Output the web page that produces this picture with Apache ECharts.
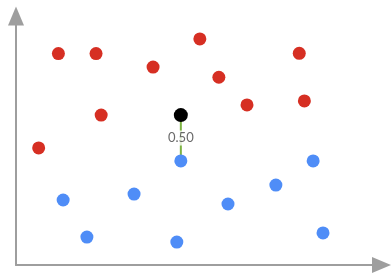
<!DOCTYPE html>
<html>
<head>
<meta charset="utf-8">
<script src="https://cdn.jsdelivr.net/npm/echarts@6/dist/echarts.min.js"></script>
<style>
    html, body { margin: 0; padding: 0; background: #fff; }
    #chart { width: 391px; height: 273px; }
</style>
</head>
<body>
<div id="chart"></div>
<script>
// points (x, y on a 0..100 scale)
const redPoints = [
    [11.6, 84.9], [21.9, 84.9], [50.3, 90.8], [37.5, 79.5], [55.5, 75.4],
    [77.5, 85.0], [23.3, 60.2], [63.2, 64.3], [78.9, 65.9], [6.2, 47.0]
]
const bluePoints = [
    [12.9, 26.1], [19.4, 11.2], [32.3, 28.5], [45.1, 41.8], [44.0, 9.2],
    [58.0, 24.5], [71.1, 32.1], [81.3, 41.8], [84.0, 12.9]
]
const blackPoint = [45.1, 60.2]
const nearestBlue = [45.1, 41.8]
const distanceLabel = '0.50'

let chart = echarts.init(document.getElementById('chart'))

let axisLine = {
    show: true,
    symbol: ['none', 'triangle'],
    symbolSize: [16, 19],
    lineStyle: { color: '#9e9e9e', width: 2 }
}

let option = {
    animation: false,
    grid: { left: 16, right: 9.5, top: 16, bottom: 8 },
    xAxis: {
        type: 'value', min: 0, max: 100,
        axisLine: axisLine,
        axisTick: { show: false },
        axisLabel: { show: false },
        splitLine: { show: false }
    },
    yAxis: {
        type: 'value', min: 0, max: 100,
        axisLine: axisLine,
        axisTick: { show: false },
        axisLabel: { show: false },
        splitLine: { show: false }
    },
    series: [{
            type: 'line',
            data: [blackPoint, nearestBlue],
            symbol: 'none',
            lineStyle: { color: '#7cb342', width: 2 },
            z: 1
        },
        {
            type: 'scatter',
            data: redPoints,
            symbolSize: 13,
            itemStyle: { color: '#d62f23', opacity: 1 },
            z: 2
        },
        {
            type: 'scatter',
            data: bluePoints,
            symbolSize: 13,
            itemStyle: { color: '#4f8df7', opacity: 1 },
            z: 2
        },
        {
            type: 'scatter',
            data: [blackPoint],
            symbolSize: 14,
            itemStyle: { color: '#000', opacity: 1 },
            z: 3
        },
        {
            type: 'scatter',
            data: [[blackPoint[0], (blackPoint[1] + nearestBlue[1]) / 2]],
            symbolSize: 0,
            label: {
                show: true,
                position: 'inside',
                formatter: distanceLabel,
                color: '#444',
                fontFamily: 'Lato',
                fontSize: 13,
                backgroundColor: '#fff',
                padding: [1, 1]
            },
            z: 4
        }
    ]
}

chart.setOption(option)
</script>
</body>
</html>
